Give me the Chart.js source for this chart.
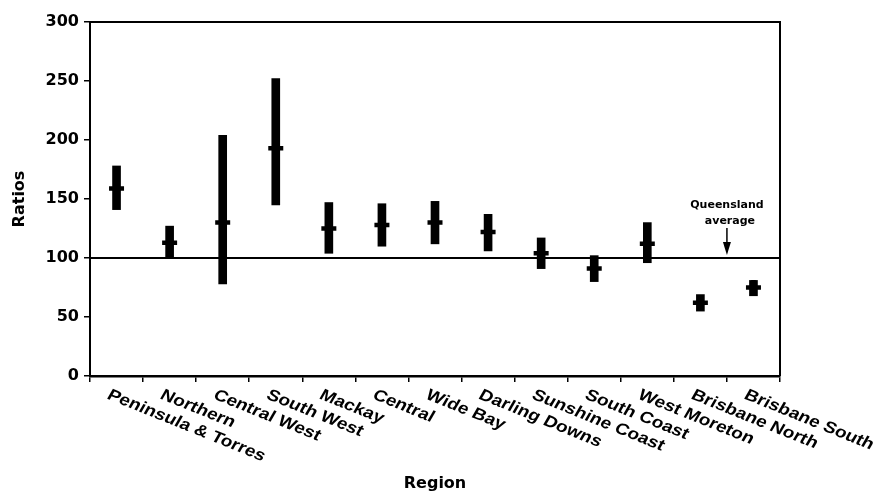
<!DOCTYPE html>
<html>
<head>
<meta charset="utf-8">
<script src="https://cdn.jsdelivr.net/npm/chart.js@4.4.1/dist/chart.umd.min.js"></script>
<style>
  html, body { margin: 0; padding: 0; background: #fff; }
  canvas { display: block; }
</style>
</head>
<body>
<canvas id="ratios" width="881" height="495"></canvas>
<script>
const regioes = ['Peninsula & Torres', 'Northern', 'Central West', 'South West', 'Mackay', 'Central',
    'Wide Bay', 'Darling Downs', 'Sunshine Coast', 'South Coast', 'West Moreton', 'Brisbane North', 'Brisbane South'];
const razoes = [159, 113, 130, 193, 125, 128, 130, 122, 104, 91, 112, 62, 75];
const limiteInferior = [141, 101, 78, 145, 104, 110, 112, 106, 91, 80, 96, 55, 68];
const limiteSuperior = [178, 127, 204, 252, 147, 146, 148, 137, 117, 102, 130, 69, 81];
const mediaQueensland = 100;
const ticksY = [0, 50, 100, 150, 200, 250, 300];

desenharGrafico();

function desenharGrafico() {
    const intervalos = limiteInferior.map((baixo, i) => [baixo, limiteSuperior[i]]);

    // linha da media, moldura, rotulos inclinados e anotacao
    const extras = {
        id: 'extras',
        beforeDatasetsDraw(chart) {
            const { ctx, chartArea, scales } = chart;
            const y = scales.y.getPixelForValue(mediaQueensland);
            ctx.save();
            ctx.strokeStyle = '#000';
            ctx.lineWidth = 2;
            ctx.beginPath();
            ctx.moveTo(chartArea.left, y);
            ctx.lineTo(chartArea.right, y);
            ctx.moveTo(chartArea.left, chartArea.top);
            ctx.lineTo(chartArea.right, chartArea.top);
            ctx.lineTo(chartArea.right, chartArea.bottom);
            ctx.stroke();
            ctx.restore();
        },
        afterDraw(chart) {
            const { ctx, chartArea, scales } = chart;
            ctx.save();
            ctx.fillStyle = '#000';
            ctx.font = 'bold 16px "Liberation Sans"';
            ctx.textAlign = 'left';
            ctx.textBaseline = 'top';
            // texto levemente esticado na horizontal, como no original
            const esticar = 1.2;
            const angulo = Math.atan(esticar * Math.tan(22 * Math.PI / 180));
            regioes.forEach((nome, i) => {
                const x = scales.x.getPixelForValue(i);
                ctx.save();
                ctx.translate(x - 4, chartArea.bottom + 11);
                ctx.scale(esticar, 1);
                ctx.rotate(angulo);
                ctx.fillText(nome, 0, 0);
                ctx.restore();
            });

            ctx.textAlign = 'center';
            ctx.textBaseline = 'middle';
            ctx.font = 'bold 16px "DejaVu Sans"';
            ctx.fillText('Region', (chartArea.left + chartArea.right) / 2, 484);

            // anotacao "Queensland average"
            const xa = (scales.x.getPixelForValue(11) + scales.x.getPixelForValue(12)) / 2;
            const ya = scales.y.getPixelForValue(mediaQueensland);
            ctx.font = 'bold 11px "DejaVu Sans"';
            ctx.fillText('Queensland', xa, ya - 53);
            ctx.fillText('average', xa + 3, ya - 37);
            ctx.strokeStyle = '#000';
            ctx.lineWidth = 1.5;
            ctx.beginPath();
            ctx.moveTo(xa, ya - 30);
            ctx.lineTo(xa, ya - 12);
            ctx.stroke();
            ctx.beginPath();
            ctx.moveTo(xa - 4, ya - 16);
            ctx.lineTo(xa + 4, ya - 16);
            ctx.lineTo(xa, ya - 3);
            ctx.closePath();
            ctx.fill();
            ctx.restore();
        }
    };

    let config = {
        type: 'bar',
        data: {
            labels: regioes,
            datasets: [{
                type: 'line',
                data: razoes,
                showLine: false,
                pointStyle: 'cross',
                pointRadius: 7.5,
                pointBorderWidth: 4.5,
                borderColor: '#000',
                backgroundColor: '#000',
                order: 0
            }, {
                data: intervalos,
                backgroundColor: '#000',
                borderWidth: 0,
                barThickness: 8,
                borderSkipped: false,
                order: 1
            }]
        },
        options: {
            responsive: false,
            animation: false,
            layout: { padding: { top: 22, right: 101, left: 0, bottom: 0 } },
            plugins: {
                legend: { display: false },
                tooltip: { enabled: false }
            },
            scales: {
                x: {
                    ticks: { display: false },
                    grid: { drawOnChartArea: false, tickLength: 6, color: '#000', lineWidth: 1.5 },
                    border: { color: '#000', width: 2.5 },
                    afterFit(scale) { scale.height = 119; }
                },
                y: {
                    min: 0,
                    max: 300,
                    afterBuildTicks(scale) { scale.ticks = ticksY.map(v => ({ value: v })); },
                    ticks: {
                        color: '#000',
                        padding: 5,
                        font: { family: 'DejaVu Sans', weight: 'bold', size: 16 }
                    },
                    grid: { drawOnChartArea: false, tickLength: 6, color: '#000', lineWidth: 1.5 },
                    border: { color: '#000', width: 2 },
                    title: {
                        display: true,
                        text: 'Ratios',
                        color: '#000',
                        padding: { top: 10, bottom: 0 },
                        font: { family: 'DejaVu Sans', weight: 'bold', size: 16 }
                    },
                    afterFit(scale) { scale.width = 90; }
                }
            }
        },
        plugins: [extras]
    };

    let ctx = document.getElementById('ratios').getContext('2d');
    window.graficoRatios = new Chart(ctx, config);
}
</script>
</body>
</html>
